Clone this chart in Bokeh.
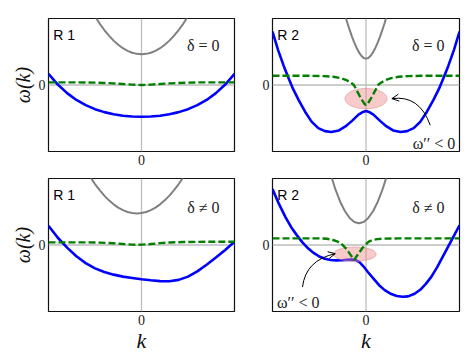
from math import pi
from bokeh.plotting import figure
from bokeh.layouts import gridplot
from bokeh.models import Range1d, FixedTicker, Span, Label, Arrow, OpenHead
from bokeh.embed import file_html
from bokeh.resources import INLINE

# ---------------- data ----------------
# Panel R1, delta = 0
k_a = [-1.0, -0.9, -0.8, -0.7, -0.6, -0.5, -0.4, -0.3, -0.2, -0.1, 0.0,
       0.1, 0.2, 0.3, 0.4, 0.5, 0.6, 0.7, 0.8, 0.9, 1.0]
blue_a = [0.17, 0.007, -0.124, -0.227, -0.306, -0.367, -0.412, -0.444, -0.466, -0.478, -0.482,
          -0.478, -0.466, -0.444, -0.412, -0.367, -0.306, -0.227, -0.124, 0.007, 0.17]
green_a = [0.04, 0.04, 0.04, 0.04, 0.039, 0.036, 0.031, 0.024, 0.015, 0.006, 0.0,
           0.006, 0.015, 0.024, 0.031, 0.036, 0.039, 0.04, 0.04, 0.04, 0.04]
k_a_grey = [-0.5, -0.45, -0.4, -0.35, -0.3, -0.25, -0.2, -0.15, -0.1, -0.05, 0.0,
            0.05, 0.1, 0.15, 0.2, 0.25, 0.3, 0.35, 0.4, 0.45, 0.5]
grey_a = [1.042, 0.933, 0.835, 0.749, 0.674, 0.611, 0.559, 0.519, 0.49, 0.473, 0.467,
          0.473, 0.49, 0.519, 0.559, 0.611, 0.674, 0.749, 0.835, 0.933, 1.042]

# Panel R2, delta = 0
k_b = [-1.0, -0.94, -0.88, -0.83, -0.78, -0.72, -0.65, -0.58, -0.51, -0.44, -0.37, -0.29,
       -0.22, -0.15, -0.08, -0.04, 0.0, 0.04, 0.08, 0.15, 0.22, 0.29, 0.37, 0.44, 0.51,
       0.58, 0.65, 0.72, 0.78, 0.83, 0.88, 0.94, 1.0]
blue_b = [0.81, 0.53, 0.29, 0.11, -0.06, -0.23, -0.41, -0.56, -0.655, -0.70, -0.713, -0.69,
          -0.63, -0.545, -0.45, -0.415, -0.396, -0.415, -0.45, -0.545, -0.63, -0.69, -0.713,
          -0.70, -0.655, -0.56, -0.41, -0.23, -0.06, 0.11, 0.29, 0.53, 0.81]
k_b_green = [-1.0, -0.6, -0.45, -0.35, -0.27, -0.21, -0.16, -0.13, -0.10, -0.07, -0.04, -0.015,
             0.0, 0.015, 0.04, 0.07, 0.10, 0.13, 0.16, 0.21, 0.27, 0.35, 0.45, 0.6, 1.0]
green_b = [0.14, 0.14, 0.135, 0.125, 0.105, 0.075, 0.035, 0.0, -0.08, -0.16, -0.235, -0.29,
           -0.305, -0.29, -0.235, -0.16, -0.08, 0.0, 0.035, 0.075, 0.105, 0.125, 0.135, 0.14, 0.14]
k_b_grey = [-0.22, -0.2, -0.175, -0.15, -0.125, -0.1, -0.075, -0.05, -0.025, 0.0,
            0.025, 0.05, 0.075, 0.1, 0.125, 0.15, 0.175, 0.2, 0.22]
grey_b = [1.04, 0.946, 0.836, 0.735, 0.644, 0.563, 0.496, 0.444, 0.411, 0.40,
          0.411, 0.444, 0.496, 0.563, 0.644, 0.735, 0.836, 0.946, 1.04]

# Panel R1, delta != 0
k_c = [-1.0, -0.9, -0.8, -0.7, -0.6, -0.5, -0.4, -0.3, -0.2, -0.1, 0.0,
       0.1, 0.2, 0.3, 0.4, 0.5, 0.6, 0.7, 0.8, 0.9, 1.0]
blue_c = [0.29, 0.11, -0.04, -0.17, -0.275, -0.355, -0.41, -0.45, -0.48, -0.50, -0.52,
          -0.535, -0.548, -0.55, -0.53, -0.48, -0.40, -0.30, -0.19, -0.075, 0.05]
k_c_green = [-1.0, -0.6, -0.45, -0.3, -0.2, -0.1, -0.05, 0.0, 0.1, 0.2, 0.3, 0.45, 0.6, 1.0]
green_c = [0.04, 0.04, 0.036, 0.026, 0.016, 0.006, 0.003, 0.005, 0.015, 0.028, 0.038, 0.045, 0.048, 0.05]
k_c_grey = [-0.55, -0.5, -0.45, -0.4, -0.35, -0.3, -0.25, -0.2, -0.15, -0.1, -0.05,
            0.0, 0.05, 0.1, 0.15, 0.2, 0.25, 0.3, 0.35, 0.4, 0.45]
grey_c = [1.03, 0.926, 0.832, 0.75, 0.678, 0.618, 0.568, 0.53, 0.502, 0.486, 0.48,
          0.486, 0.502, 0.53, 0.568, 0.618, 0.678, 0.75, 0.832, 0.926, 1.03]

# Panel R2, delta != 0
k_d = [-1.0, -0.93, -0.86, -0.8, -0.74, -0.68, -0.62, -0.56, -0.5, -0.44, -0.38, -0.32,
       -0.26, -0.2, -0.15, -0.11, -0.07, -0.03, 0.02, 0.08, 0.14, 0.2, 0.27, 0.33, 0.39,
       0.45, 0.52, 0.58, 0.64, 0.7, 0.76, 0.82, 0.88, 0.94, 1.0]
blue_d = [0.85, 0.62, 0.42, 0.27, 0.15, 0.04, -0.05, -0.12, -0.175, -0.21, -0.228, -0.234,
          -0.232, -0.226, -0.222, -0.228, -0.26, -0.32, -0.41, -0.51, -0.61, -0.685, -0.745,
          -0.775, -0.787, -0.78, -0.74, -0.68, -0.59, -0.48, -0.34, -0.18, -0.02, 0.14, 0.30]
k_d_green = [-1.0, -0.5, -0.42, -0.36, -0.31, -0.27, -0.24, -0.21, -0.18, -0.15, -0.125,
             -0.10, -0.07, -0.04, -0.01, 0.03, 0.07, 0.12, 0.2, 0.35, 1.0]
green_d = [0.10, 0.10, 0.095, 0.08, 0.056, 0.025, -0.015, -0.06, -0.12, -0.18, -0.225,
           -0.17, -0.11, -0.05, 0.0, 0.05, 0.075, 0.09, 0.097, 0.10, 0.10]
k_d_grey = [-0.375, -0.325, -0.275, -0.225, -0.175, -0.125, -0.075, -0.025, 0.025,
            0.075, 0.125, 0.175, 0.225]
grey_d = [1.059, 0.836, 0.654, 0.512, 0.411, 0.35, 0.33, 0.35, 0.411, 0.512, 0.654, 0.836, 1.059]

# shaded region (x, y, width, height) and arrows (start, control, end)
ellipse_b = [0.0, -0.207, 0.45, 0.31]
ellipse_d = [-0.119, -0.139, 0.455, 0.22]
arrow_b = [(0.687, -0.611), (0.571, -0.148), (0.277, -0.207)]
arrow_d = [(-0.679, -0.639), (-0.646, -0.233), (-0.329, -0.131)]
note_b = (0.50, -0.887)
note_d = (-0.953, -0.872)

region_labels = ["R 1", "R 2", "R 1", "R 2"]
delta_labels = ["δ = 0", "δ = 0", "δ ≠ 0", "δ ≠ 0"]
tick_values = [0]
y_title = "ω(k)"
x_title = "k"

BLUE = "#0000ff"
GREY = "#808080"
GREEN = "#007f00"
SERIF = "Liberation Serif"


def make_fig(w, h, bl, br, bt, bb):
    p = figure(width=w, height=h, x_range=Range1d(-1, 1), y_range=Range1d(-1.01, 1.01),
               output_backend="svg", toolbar_location=None,
               min_border_left=bl, min_border_right=br, min_border_top=bt, min_border_bottom=bb)
    p.background_fill_color = "white"
    p.border_fill_color = "white"
    p.outline_line_color = "#111111"
    p.outline_line_width = 1.2
    p.xgrid.visible = False
    p.ygrid.visible = False
    for ax in list(p.xaxis) + list(p.yaxis):
        ax.ticker = FixedTicker(ticks=tick_values)
        ax.major_tick_line_color = None
        ax.minor_tick_line_color = None
        ax.axis_line_color = None
        ax.major_tick_out = 0
        ax.major_tick_in = 0
        ax.major_label_text_font = SERIF
        ax.major_label_text_font_size = "14px"
        ax.major_label_text_color = "#222222"
        ax.major_label_standoff = 3
        ax.axis_label_text_font = SERIF
        ax.axis_label_text_font_style = "italic"
        ax.axis_label_text_color = "#111111"
    p.add_layout(Span(location=0, dimension="width", line_color="#bdbdbd", line_width=1.3, level="underlay"))
    p.add_layout(Span(location=0, dimension="height", line_color="#bdbdbd", line_width=1.3, level="underlay"))
    return p


p1 = make_fig(253, 174, 48, 19, 18, 23)
p2 = make_fig(220, 174, 19, 14, 18, 23)
p3 = make_fig(253, 183, 48, 19, 4, 46)
p4 = make_fig(220, 183, 19, 14, 4, 46)

panels = [
    (p1, k_a_grey, grey_a, k_a, blue_a, k_a, green_a),
    (p2, k_b_grey, grey_b, k_b, blue_b, k_b_green, green_b),
    (p3, k_c_grey, grey_c, k_c, blue_c, k_c_green, green_c),
    (p4, k_d_grey, grey_d, k_d, blue_d, k_d_green, green_d),
]

for i, (p, kg, g, kb, b, kgr, gr) in enumerate(panels):
    p.line(kg, g, line_color=GREY, line_width=2)
    p.line(kb, b, line_color=BLUE, line_width=2.6)
    if p is p2 or p is p4:
        e = ellipse_b if p is p2 else ellipse_d
        p.ellipse(x=[e[0]], y=[e[1]], width=[e[2]], height=[e[3]],
                  fill_color="#f08080", fill_alpha=0.42, line_color="#e09090", line_alpha=0.6, line_width=1)
    p.line(kgr, gr, line_color=GREEN, line_width=2.4, line_dash="7 3")
    p.add_layout(Label(x=-0.95, y=0.76, text=region_labels[i], text_font="Liberation Sans",
                       text_font_size="14px", text_color="black", text_baseline="alphabetic"))
    dy = 0.60 if i < 2 else 0.575
    p.add_layout(Label(x=0.84, y=dy, text=delta_labels[i], text_font=SERIF,
                       text_font_size="16px", text_color="#222222", text_align="right",
                       text_baseline="alphabetic"))

for p, arr, note in ((p2, arrow_b, note_b), (p4, arrow_d, note_d)):
    (x0, y0), (cx, cy), (x1, y1) = arr
    p.quadratic(x0=[x0], y0=[y0], x1=[x1], y1=[y1], cx=[cx], cy=[cy], line_color="black", line_width=1)
    xs = x1 + 0.1 * (cx - x1)
    ys = y1 + 0.1 * (cy - y1)
    p.add_layout(Arrow(end=OpenHead(size=7, line_width=1, line_color="black"),
                       x_start=xs, y_start=ys, x_end=x1, y_end=y1, line_width=1, line_color="black"))
    p.add_layout(Label(x=note[0], y=note[1], text="ω′′ < 0", text_font=SERIF,
                       text_font_size="16px", text_color="#222222", text_baseline="alphabetic"))

for p in (p1, p3):
    p.yaxis.axis_label = y_title
    p.yaxis.axis_label_text_font_size = "20px"
    p.yaxis.axis_label_standoff = 2
for p in (p3, p4):
    p.xaxis.axis_label = x_title
    p.xaxis.axis_label_text_font_size = "22px"
    p.xaxis.axis_label_standoff = 0

grid = gridplot([[p1, p2], [p3, p4]], toolbar_location=None)
open("out.html", "w").write(file_html(grid, INLINE))
